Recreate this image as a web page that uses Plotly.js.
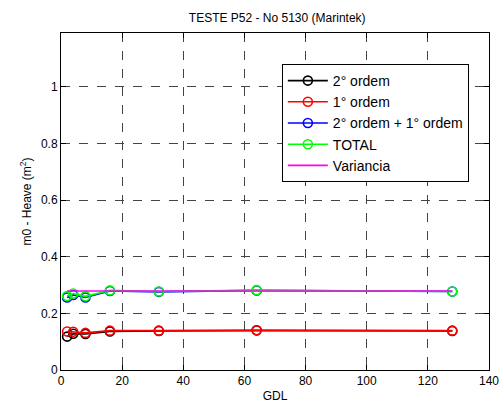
<!DOCTYPE html>
<html><head><meta charset="utf-8">
<script src="https://cdn.plot.ly/plotly-3.0.1.min.js"></script>
<style>html,body{margin:0;padding:0;background:#fff}#chart{width:504px;height:412px}</style>
</head><body><div id="chart"></div>
<script>
const gdl = [2, 4, 8, 16, 32, 64, 128];
const ordem2 = [0.118, 0.128, 0.127, 0.136, 0.138, 0.140, 0.138];
const ordem1 = [0.136, 0.135, 0.131, 0.139, 0.139, 0.140, 0.139];
const soma = [0.256, 0.265, 0.256, 0.279, 0.276, 0.281, 0.277];
const total = [0.261, 0.270, 0.260, 0.281, 0.277, 0.282, 0.277];
const variancia = [0.279, 0.279];
const varX = [2, 128];
const names = ['2° ordem', '1° ordem', '2° ordem + 1° ordem', 'TOTAL', 'Variancia'];

const mk = (c) => ({symbol: 'circle-open', size: 9, color: c, line: {width: 1.6, color: c}});
const traces = [
  {x: gdl, y: ordem2, name: names[0], mode: 'lines+markers', line: {color: '#000000', width: 1.6}, marker: mk('#000000')},
  {x: gdl, y: ordem1, name: names[1], mode: 'lines+markers', line: {color: '#ff0000', width: 1.6}, marker: mk('#ff0000')},
  {x: gdl, y: soma, name: names[2], mode: 'lines+markers', line: {color: '#0000ff', width: 1.6}, marker: mk('#0000ff')},
  {x: gdl, y: total, name: names[3], mode: 'lines+markers', line: {color: '#00ff00', width: 1.6}, marker: mk('#00ff00')},
  {x: varX, y: variancia, name: names[4], mode: 'lines', line: {color: '#ff00ff', width: 1.6}}
];
const ax = {
  showline: true, linecolor: '#000', linewidth: 1, mirror: 'ticks',
  ticks: 'inside', ticklen: 5, tickcolor: '#000',
  showgrid: true, gridcolor: '#444', griddash: 'dash', gridwidth: 1,
  zeroline: false, tickfont: {size: 12, color: '#000'}
};
const layout = {
  width: 504, height: 412,
  margin: {l: 61, r: 15, t: 33, b: 42},
  paper_bgcolor: '#fff', plot_bgcolor: '#fff',
  font: {family: 'Liberation Sans, Arial, sans-serif', size: 12, color: '#000'},
  title: {text: 'TESTE P52 - No 5130 (Marintek)', x: 0.55, xanchor: 'center', y: 0.958, yanchor: 'middle', font: {size: 12}},
  xaxis: Object.assign({}, ax, {range: [0, 140], dtick: 20, title: {text: 'GDL', standoff: 4, font: {size: 12}}}),
  yaxis: Object.assign({}, ax, {range: [0, 1.19], tickvals: [0, 0.2, 0.4, 0.6, 0.8, 1], ticktext: ['0', '0.2', '0.4', '0.6', '0.8', '1'], title: {text: 'm0 - Heave (m<sup>2</sup>)', standoff: 6, font: {size: 12}}}),
  legend: {x: 0.516, y: 0.908, xanchor: 'left', yanchor: 'top', bgcolor: '#fff', bordercolor: '#000', borderwidth: 1, font: {size: 14}, itemwidth: 40},
  showlegend: true
};
Plotly.newPlot('chart', traces, layout, {displayModeBar: false, staticPlot: true});
</script></body></html>
